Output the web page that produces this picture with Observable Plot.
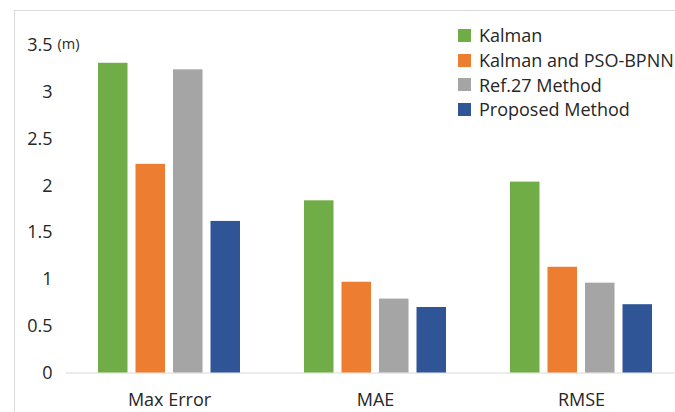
<!DOCTYPE html>
<html>
<head>
<meta charset="utf-8">
<script src="https://cdn.jsdelivr.net/npm/d3@7"></script>
<script src="https://cdn.jsdelivr.net/npm/@observablehq/plot@0.6"></script>
<style>
  html, body { margin: 0; padding: 0; background: #fff; overflow: hidden; }
  #chart { position: relative; width: 675px; height: 412px; font-family: "Open Sans", sans-serif; }
  #chart svg { position: absolute; left: 0; top: 0; }
  .border { position: absolute; left: 14px; top: 10px; right: -5px; bottom: -5px;
            border-top: 1px solid #d9d9d9; border-left: 1px solid #d9d9d9; pointer-events: none; }
  .legend { position: absolute; left: 458px; top: 23px; font-size: 18px; color: #262626; }
  .legend .row { display: flex; align-items: center; height: 24.7px; white-space: nowrap; }
  .legend .sw { width: 13px; height: 13px; margin-right: 8px; flex: none; }
</style>
</head>
<body>
<div id="chart"><div class="border"></div></div>
<script>
// Error metrics (metres) for each positioning method
const metrics = ["Max Error", "MAE", "RMSE"];
const series = ["Kalman", "Kalman and PSO-BPNN", "Ref.27 Method", "Proposed Method"];
const colors = ["#70ad47", "#ed7d31", "#a5a5a5", "#2f5597"];
const kalman = [3.31, 1.84, 2.04];
const kalmanPso = [2.23, 0.97, 1.13];
const ref27 = [3.24, 0.79, 0.96];
const proposed = [1.62, 0.70, 0.73];
const yTicks = [0, 0.5, 1, 1.5, 2, 2.5, 3, 3.5];
const unitLabel = "(m)";

const values = [kalman, kalmanPso, ref27, proposed];
const rows = [];
metrics.forEach((m, i) => series.forEach((s, j) => rows.push({metric: m, method: s, value: values[j][i]})));

const plot = Plot.plot({
  width: 675,
  height: 412,
  marginLeft: 66,
  marginRight: 0,
  marginTop: 45,
  marginBottom: 39.5,
  style: {fontFamily: "'Open Sans', sans-serif", fontSize: "18px", color: "#262626", background: "transparent", overflow: "hidden"},
  fx: {domain: metrics, range: [66, 684], padding: 0, round: false, axis: "bottom", label: null, tickSize: 0, tickPadding: 20},
  x: {domain: series, paddingInner: 0.2133, paddingOuter: 0.853, round: false, axis: null},
  y: {domain: [0, 3.5], ticks: yTicks, tickFormat: d => String(d), tickSize: 0, tickPadding: 14, label: null, grid: false},
  color: {domain: series, range: colors},
  marks: [
    Plot.ruleY([0], {stroke: "#d9d9d9", strokeWidth: 1}),
    Plot.barY(rows, {fx: "metric", x: "method", y: "value", fill: "method"}),
    Plot.text([unitLabel], {fx: () => metrics[0], y: () => 3.5, text: d => d, frameAnchor: "left", textAnchor: "start", dx: -9, dy: -1, fontSize: 14.5, fill: "#262626"})
  ]
});
document.getElementById("chart").appendChild(plot);

// Legend, top right
const legend = d3.select("#chart").append("div").attr("class", "legend");
series.forEach((s, i) => {
  const row = legend.append("div").attr("class", "row");
  row.append("div").attr("class", "sw").style("background", colors[i]);
  row.append("span").text(s);
});
</script>
</body>
</html>
